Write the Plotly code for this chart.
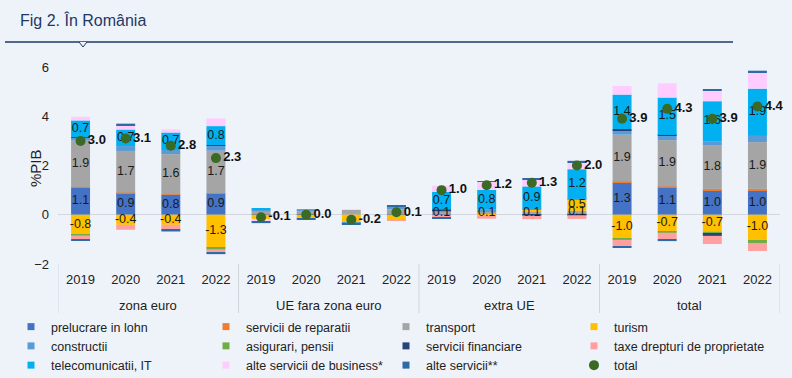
import plotly.graph_objects as go

group_names = ["zona euro", "UE fara zona euro", "extra UE", "total"]
year_labels = ["2019", "2020", "2021", "2022"]
groups = [g for g in group_names for _ in year_labels]
years = year_labels * len(group_names)

lohn = [1.1, 0.88, 0.81, 0.86, 0.02, 0.03, 0.0, 0.02, 0.02, 0.03, 0.02, 0.04, 1.3, 1.1, 1.0, 1.0]
reparatii = [0.03, 0.02, 0.02, 0.02, 0, 0, 0, 0, 0, 0, 0, 0, 0.05, 0.05, 0.05, 0.05]
transport = [1.88, 1.69, 1.63, 1.72, 0.1, 0.1, 0.2, 0.2, 0.12, 0.12, 0.12, 0.12, 1.9, 1.88, 1.78, 1.9]
turism = [-0.82, -0.41, -0.41, -1.34, -0.17, -0.15, -0.3, -0.2, 0, -0.08, 0.08, 0.47, -0.98, -0.68, -0.68, -1.02]
constructii = [0.12, 0.2, 0.17, 0.2, 0.1, 0.1, -0.05, 0.1, 0.05, 0.08, 0.03, 0.02, 0.18, 0.18, 0.16, 0.25]
asigurari = [-0.02, 0, 0, -0.08, 0, 0, 0, 0, 0, 0, 0, 0, -0.04, -0.05, -0.1, -0.15]
financiare = [0.02, 0, 0, 0.03, 0, 0, 0, 0, 0.02, 0, -0.03, -0.02, 0.05, 0.03, -0.08, 0]
taxe = [-0.15, -0.2, -0.2, -0.12, 0, 0, 0, -0.04, -0.12, -0.08, -0.15, -0.15, -0.25, -0.28, -0.33, -0.3]
telecom = [0.68, 0.67, 0.71, 0.77, 0.02, 0, 0, 0.02, 0.72, 0.78, 0.9, 1.2, 1.4, 1.52, 1.62, 1.92]
business = [0.15, 0.16, 0.13, 0.31, -0.12, 0, 0, 0, 0.25, 0.32, 0.3, 0.28, 0.35, 0.58, 0.42, 0.65]
alte = [-0.04, 0.08, -0.07, -0.06, -0.05, -0.05, -0.05, 0.02, -0.04, 0.04, 0.04, 0.06, -0.04, -0.06, 0.06, 0.08]
total = [3.0, 3.1, 2.8, 2.3, -0.1, 0.0, -0.2, 0.1, 1.0, 1.2, 1.3, 2.0, 3.9, 4.3, 3.9, 4.4]

# (name, values, colour, show value labels)
series = [
    ("prelucrare in lohn", lohn, "#4472C4", True),
    ("servicii de reparatii", reparatii, "#ED7D31", False),
    ("transport", transport, "#A5A5A5", True),
    ("turism", turism, "#FFC000", True),
    ("constructii", constructii, "#5B9BD5", False),
    ("asigurari, pensii", asigurari, "#70AD47", False),
    ("servicii financiare", financiare, "#264478", False),
    ("taxe drepturi de proprietate", taxe, "#FF9F9F", False),
    ("telecomunicatii, IT", telecom, "#00B0F0", True),
    ("alte servicii de business*", business, "#FFCCFF", False),
    ("alte servicii**", alte, "#2E6AA6", False),
]
legend_cols = ["legend", "legend2", "legend3", "legend4"]

BG = "#EEF3FA"
FONT = "Liberation Sans, Arial, sans-serif"
cats = [f"{g} {y}" for g, y in zip(groups, years)]

fig = go.Figure()
pos_base = [0.0] * len(cats)
neg_base = [0.0] * len(cats)
lab_x, lab_y, lab_t = [], [], []
for i, (name, vals, col, labeled) in enumerate(series):
    fig.add_trace(go.Bar(
        name=name, x=cats, y=vals, marker=dict(color=col, line=dict(width=0)),
        showlegend=False, legendgroup=name,
    ))
    for j, v in enumerate(vals):
        if v >= 0:
            mid = pos_base[j] + v / 2
            pos_base[j] += v
        else:
            mid = neg_base[j] + v / 2
            neg_base[j] += v
        if labeled and abs(v) >= 0.1 and groups[j] != "UE fara zona euro":
            lab_x.append(cats[j]); lab_y.append(mid); lab_t.append(f"{v:.1f}")

# legend entries with small square keys
for i, (name, vals, col, labeled) in enumerate(series):
    fig.add_trace(go.Scatter(
        name=name, x=[None], y=[None], mode="markers", legendgroup=name,
        marker=dict(symbol="square", size=7, color=col), legend=legend_cols[i % 4],
    ))

fig.add_trace(go.Scatter(
    x=lab_x, y=lab_y, text=lab_t, mode="text", showlegend=False, hoverinfo="skip",
    textfont=dict(family=FONT, size=12.5, color="#1a1a1a"),
))

fig.add_trace(go.Scatter(
    name="total", x=cats, y=total, mode="markers+text", cliponaxis=False,
    marker=dict(color="#3B6A27", size=10),
    text=[f"{v:.1f}" for v in total], textposition="middle right",
    textfont=dict(family=FONT, size=13, color="#111111"),
    texttemplate="<b>%{text}</b>", legend="legend4",
))

L, R, T, B = 58, 12, 67, 114
W, H = 792, 378
pw, ph = W - L - R, H - T - B

def px2paper(px, py):
    return (px - L) / pw, (H - B - py) / ph

x0, y0 = px2paper(5, 42)
x1, _ = px2paper(733, 42)
nx, _ = px2paper(83, 42)
dxn = 4 / pw
dyn = 5 / ph

legfont = dict(family=FONT, size=12.5, color="#222222")

def leg(px):
    return dict(orientation="v", xref="container", yref="container",
                x=px / W, xanchor="left", y=(H - 312) / H, yanchor="top",
                itemwidth=30, font=legfont, tracegroupgap=0,
                bgcolor="rgba(0,0,0,0)", traceorder="normal")

n_y = len(year_labels)
shapes = [
    dict(type="line", xref="paper", yref="paper", x0=x0, y0=y0, x1=x1, y1=y0,
         line=dict(color="#1F3864", width=1.3)),
    dict(type="path", xref="paper", yref="paper",
         path=f"M {nx - dxn} {y0} L {nx} {y0 - dyn} L {nx + dxn} {y0}",
         line=dict(color="#1F3864", width=1), fillcolor=BG),
]
yd0 = px2paper(0, 264)[1]
yd1 = px2paper(0, 313)[1]
for k in range(len(group_names) + 1):
    xb = k * n_y - 0.5
    shapes.append(dict(type="line", xref="x", yref="paper", x0=xb, x1=xb, y0=yd0, y1=yd1,
                       line=dict(color="#D0D4DC", width=1)))

annotations = [
    dict(text="Fig 2. În România", xref="paper", yref="paper",
         x=px2paper(18, 20)[0], y=px2paper(18, 20)[1], xanchor="left", yanchor="middle",
         showarrow=False, font=dict(family=FONT, size=16, color="#1F3864")),
    dict(text="%PIB", xref="paper", yref="paper", textangle=-90,
         x=px2paper(35, 168)[0], y=px2paper(35, 168)[1], xanchor="center", yanchor="middle",
         showarrow=False, font=dict(family=FONT, size=15, color="#222222")),
]
for k, g in enumerate(group_names):
    annotations.append(dict(
        text=g, xref="x", yref="paper", x=k * n_y + (n_y - 1) / 2, y=px2paper(0, 305)[1],
        xanchor="center", yanchor="middle", showarrow=False,
        font=dict(family=FONT, size=13, color="#222222")))

fig.update_layout(
    width=W, height=H,
    margin=dict(l=L, r=R, t=T, b=B, autoexpand=False),
    paper_bgcolor=BG, plot_bgcolor=BG,
    barmode="relative", bargap=0.58,
    font=dict(family=FONT, size=12, color="#222222"),
    showlegend=True,
    legend=leg(11), legend2=leg(206), legend3=leg(386), legend4=leg(574),
    xaxis=dict(type="category", showgrid=False, showline=False, ticks="",
               automargin=False, ticklabelstandoff=6,
               tickvals=cats, ticktext=years, range=[-0.5, len(cats) - 0.5],
               tickfont=dict(family=FONT, size=13, color="#222222")),
    yaxis=dict(range=[-2, 6], tickvals=[-2, 0, 2, 4, 6], showgrid=False,
               automargin=False,
               zeroline=True, zerolinecolor="#D3D6DE", zerolinewidth=1,
               showline=False, ticks="", ticklabelstandoff=8,
               tickfont=dict(family=FONT, size=13, color="#222222")),
    shapes=shapes,
    annotations=annotations,
)

fig.write_html(
    "out.html",
    config={"displayModeBar": False},
    post_script=f"document.body.style.margin='0';document.body.style.background='{BG}';",
)
